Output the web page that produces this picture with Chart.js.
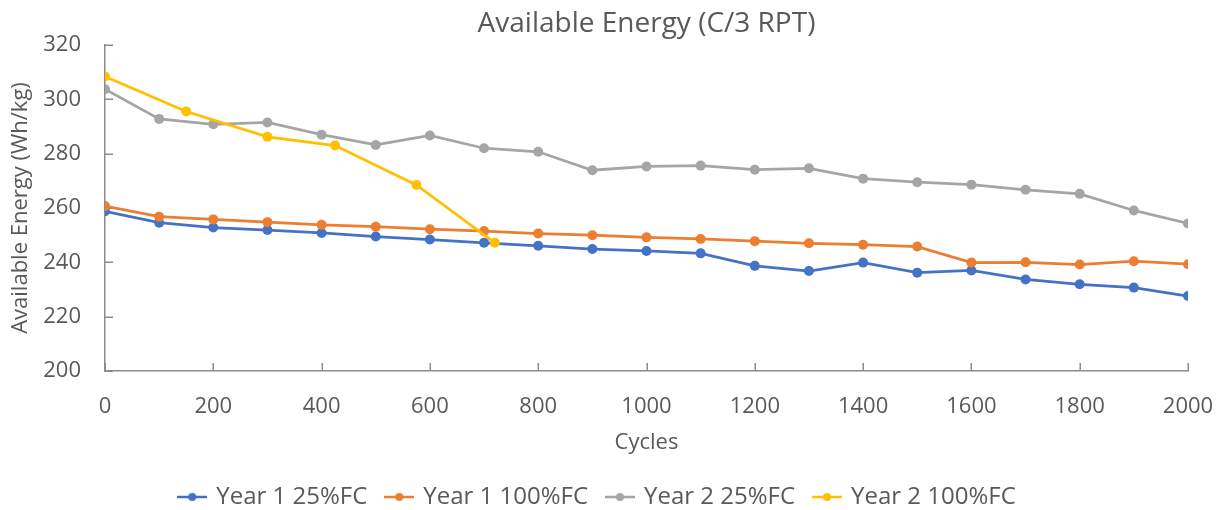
<!DOCTYPE html>
<html>
<head>
<meta charset="utf-8">
<script src="https://cdn.jsdelivr.net/npm/chart.js@4/dist/chart.umd.min.js"></script>
<style>
  html, body { margin: 0; padding: 0; background: #ffffff; }
  #wrap { width: 1224px; height: 510px; }
</style>
</head>
<body>
<div id="wrap"><canvas id="chart" width="1224" height="510"></canvas></div>
<script>
// Cycle positions of the reference performance tests
const cyclesYear1 = [0, 100, 200, 300, 400, 500, 600, 700, 800, 900, 1000,
  1100, 1200, 1300, 1400, 1500, 1600, 1700, 1800, 1900, 2000];
const cyclesYear2Full = [0, 150, 300, 425, 575, 720];

// Available energy in Wh/kg
const year1Partial = [258.8, 254.6, 252.8, 251.9, 250.8, 249.5, 248.4, 247.2, 246.1, 244.9, 244.2,
  243.3, 238.7, 236.8, 239.9, 236.2, 237.0, 233.7, 231.9, 230.7, 227.6];
const year1Full = [260.7, 256.8, 255.8, 254.8, 253.8, 253.1, 252.2, 251.5, 250.6, 250.0, 249.2,
  248.6, 247.8, 247.0, 246.5, 245.8, 239.9, 240.0, 239.2, 240.4, 239.3];
const year2Partial = [303.7, 292.8, 290.8, 291.5, 287.0, 283.2, 286.7, 282.0, 280.7, 273.9, 275.3,
  275.6, 274.1, 274.6, 270.8, 269.5, 268.6, 266.7, 265.2, 259.1, 254.3];
const year2Full = [308.4, 295.5, 286.2, 283.0, 268.5, 247.2];

const seriesNames = ['Year 1 25%FC', 'Year 1 100%FC', 'Year 2 25%FC', 'Year 2 100%FC'];
const seriesColors = ['#4472C4', '#ED7D31', '#A5A5A5', '#FFC000'];

// Axis ranges and ticks
const xMin = 0, xMax = 2000, xStep = 200;
const yMin = 200, yMax = 320, yStep = 20;

const textColor = '#595959';
const axisColor = '#8c8c8c';
const fontFamily = '"Open Sans", "Liberation Sans", sans-serif';

function pairs(xs, ys) {
  return xs.map((x, i) => ({ x: x, y: ys[i] }));
}

// Line-with-dot marker used in the legend
function legendMarker(color) {
  const c = document.createElement('canvas');
  c.width = 30; c.height = 12;
  const g = c.getContext('2d');
  g.strokeStyle = color;
  g.lineWidth = 2.5;
  g.beginPath(); g.moveTo(0, 6); g.lineTo(30, 6); g.stroke();
  g.fillStyle = color;
  g.beginPath(); g.arc(15, 6, 4, 0, Math.PI * 2); g.fill();
  return c;
}
const markers = seriesColors.map(legendMarker);

function makeDataset(idx, xs, ys) {
  return {
    label: seriesNames[idx],
    data: pairs(xs, ys),
    borderColor: seriesColors[idx],
    backgroundColor: seriesColors[idx],
    borderWidth: 2.75,
    pointRadius: 5,
    pointHoverRadius: 5,
    pointBorderWidth: 0,
    tension: 0,
    order: 4 - idx
  };
}

// Short tick marks drawn inward from both axes
const innerTicks = {
  id: 'innerTicks',
  beforeDatasetsDraw(chart) {
    const ctx = chart.ctx;
    const xs = chart.scales.x, ys = chart.scales.y;
    const area = chart.chartArea;
    ctx.save();
    ctx.strokeStyle = axisColor;
    ctx.lineWidth = 1.5;
    ctx.beginPath();
    xs.ticks.forEach(t => {
      const px = Math.round(xs.getPixelForValue(t.value)) + 0.25;
      ctx.moveTo(px, area.bottom);
      ctx.lineTo(px, area.bottom - 8);
    });
    ys.ticks.forEach(t => {
      const py = Math.round(ys.getPixelForValue(t.value)) + 0.25;
      ctx.moveTo(area.left, py);
      ctx.lineTo(area.left + 8, py);
    });
    ctx.stroke();
    ctx.restore();
  }
};

Chart.defaults.font.family = fontFamily;
Chart.defaults.color = textColor;

new Chart(document.getElementById('chart'), {
  type: 'line',
  data: {
    datasets: [
      makeDataset(0, cyclesYear1, year1Partial),
      makeDataset(1, cyclesYear1, year1Full),
      makeDataset(2, cyclesYear1, year2Partial),
      makeDataset(3, cyclesYear2Full, year2Full)
    ]
  },
  options: {
    responsive: false,
    animation: false,
    events: [],
    layout: { padding: { left: 8, right: 36, top: 0, bottom: -9 } },
    plugins: {
      title: {
        display: true,
        fullSize: false,
        text: 'Available Energy (C/3 RPT)',
        color: textColor,
        font: { size: 28, weight: 'normal' },
        padding: { top: 7, bottom: 4.4 }
      },
      legend: {
        position: 'bottom',
        labels: {
          color: textColor,
          font: { size: 24 },
          usePointStyle: true,
          pointStyleWidth: 24,
          padding: 20,
          sort: (a, b) => a.datasetIndex - b.datasetIndex,
          generateLabels(chart) {
            const items = Chart.defaults.plugins.legend.labels.generateLabels(chart);
            items.forEach(it => { it.pointStyle = markers[it.datasetIndex]; });
            return items;
          }
        }
      },
      tooltip: { enabled: false }
    },
    scales: {
      x: {
        type: 'linear',
        min: xMin,
        max: xMax,
        afterFit(scale) { scale.height = 94; },
        ticks: { stepSize: xStep, color: textColor, font: { size: 22 }, padding: 1, maxRotation: 0,
                 callback: v => String(v) },
        grid: { display: false, drawTicks: true, tickLength: 22 },
        border: { display: true, color: axisColor, width: 1.5 },
        title: {
          display: true,
          text: 'Cycles',
          color: textColor,
          font: { size: 22 },
          padding: { top: 0, bottom: 9 }
        }
      },
      y: {
        type: 'linear',
        min: yMin,
        max: yMax,
        afterFit(scale) { scale.width = 97; },
        ticks: { stepSize: yStep, color: textColor, font: { size: 22 }, padding: 24,
                 callback: v => String(v) },
        grid: { display: false, drawTicks: false },
        border: { display: true, color: axisColor, width: 1.5 },
        title: {
          display: true,
          text: 'Available Energy (Wh/kg)',
          color: textColor,
          font: { size: 22 },
          padding: { top: 0, bottom: 0 }
        }
      }
    }
  },
  plugins: [innerTicks]
});
</script>
</body>
</html>
